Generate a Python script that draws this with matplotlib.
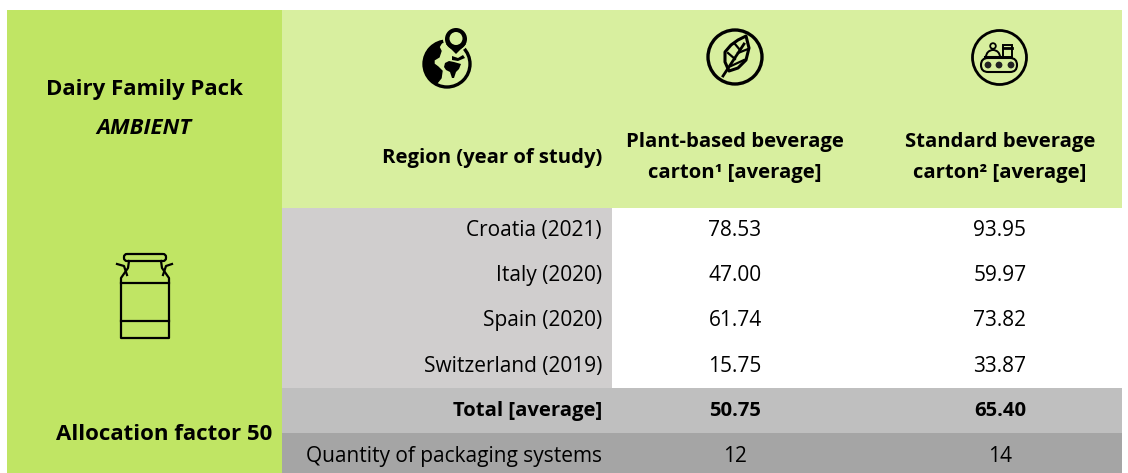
import matplotlib
matplotlib.use("Agg")
import matplotlib.pyplot as plt
from matplotlib.patches import Rectangle, Circle, FancyBboxPatch, Wedge, Polygon

regions = ["Croatia (2021)", "Italy (2020)", "Spain (2020)", "Switzerland (2019)"]
plant_based = ["78.53", "47.00", "61.74", "15.75"]
standard = ["93.95", "59.97", "73.82", "33.87"]
total_row = ["Total [average]", "50.75", "65.40"]
quantity_row = ["Quantity of packaging systems", "12", "14"]
headers = ["Region (year of study)", "Plant-based beverage\ncarton¹ [average]", "Standard beverage\ncarton² [average]"]

plt.rcParams['font.family'] = ['Open Sans', 'DejaVu Sans']
FS = 15
FS_HEAD = 14.6
FS_LEFT = 16

fig = plt.figure(figsize=(11.28, 4.73), dpi=100)
ax = fig.add_axes([0, 0, 1, 1])
ax.set_xlim(0, 1128)
ax.set_ylim(473, 0)
ax.axis("off")


def box(x0, y0, x1, y1, color):
    ax.add_patch(Rectangle((x0, y0), x1 - x0, y1 - y0, fc=color, ec="none"))


# 背景色块
green = "#d8ef9f"
box(7, 10, 282, 473, "#c0e564")
box(282, 10, 1122, 208, green)
box(282, 208, 612, 388, "#d0cece")
box(282, 388, 1122, 433, "#bfbfbf")
box(282, 433, 1122, 473, "#a5a5a5")

# 左侧文字
ax.text(144, 90, "Dairy Family Pack", ha="center", va="center", fontsize=FS_LEFT, fontweight="bold")
ax.text(144, 128, "AMBIENT", ha="center", va="center", fontsize=FS_LEFT, fontweight="bold", style="italic")
ax.text(164, 434, "Allocation factor 50", ha="center", va="center", fontsize=FS_LEFT, fontweight="bold")

# 表头
ax.text(602, 158, headers[0], ha="right", va="center", fontsize=FS_HEAD, fontweight="bold")
ax.text(735, 157.5, headers[1], ha="center", va="center", fontsize=FS_HEAD, fontweight="bold", linespacing=1.72)
ax.text(1000, 157.5, headers[2], ha="center", va="center", fontsize=FS_HEAD, fontweight="bold", linespacing=1.72)

# 数据行
row_y = [230.5, 275.5, 320.5, 366.5]
for y, r, p, s in zip(row_y, regions, plant_based, standard):
    ax.text(602, y, r, ha="right", va="center", fontsize=FS)
    ax.text(735, y, p, ha="center", va="center", fontsize=FS)
    ax.text(1000, y, s, ha="center", va="center", fontsize=FS)

ax.text(602, 410.5, total_row[0], ha="right", va="center", fontsize=FS_HEAD, fontweight="bold")
ax.text(735, 410.5, total_row[1], ha="center", va="center", fontsize=FS_HEAD, fontweight="bold")
ax.text(1000, 410.5, total_row[2], ha="center", va="center", fontsize=FS_HEAD, fontweight="bold")

ax.text(602, 456.5, quantity_row[0], ha="right", va="center", fontsize=FS)
ax.text(735, 456.5, quantity_row[1], ha="center", va="center", fontsize=FS)
ax.text(1000, 456.5, quantity_row[2], ha="center", va="center", fontsize=FS)

# 地球图标
ax.add_patch(Circle((447, 64), 23, fc=green, ec="black", lw=2.4))
ax.add_patch(Polygon([(442, 42), (439, 47), (441, 51), (439, 57), (434, 60), (434, 64), (438, 67),
                      (442, 71), (441, 78), (437, 83), (431, 80), (425, 72), (424, 62), (428, 50), (435, 44)],
                     fc="black", ec="black", lw=1))
ax.add_patch(Polygon([(445, 63), (449, 61), (454, 62), (461, 64), (459, 69), (456, 72), (454, 78),
                      (452, 78), (450, 72), (446, 70), (444, 67)], fc="black", ec="none"))
ax.add_patch(Polygon([(452, 56), (458, 58), (463, 55), (465, 58), (458, 61), (452, 60)], fc="black", ec="none"))
ax.add_patch(Circle((456, 39), 13, fc=green, ec="none"))
ax.add_patch(Circle((456, 39), 11, fc="black", ec="none"))
ax.add_patch(Polygon([(446, 44), (456, 54), (466, 44)], fc="black", ec="none"))
ax.add_patch(Circle((456, 38.5), 6.5, fc=green, ec="none"))

# 叶子图标
ax.add_patch(Circle((735, 57), 27, fc="none", ec="black", lw=2.4))
ax.add_patch(Polygon([(746, 36), (749, 48), (746, 60), (738, 68), (729, 71), (725, 62), (725, 52),
                      (731, 45), (738, 40)],
                     fc="none", ec="black", lw=2.2, joinstyle="round"))
ax.plot([723, 744], [76, 44], color="black", lw=2)
ax.plot([735, 728], [59, 53], color="black", lw=1.6)
ax.plot([731, 744], [66, 60], color="black", lw=1.6)
ax.plot([740, 735], [50, 44], color="black", lw=1.6)
ax.plot([738, 748], [53, 49], color="black", lw=1.6)

# 传送带图标
ax.add_patch(Circle((999.5, 57.5), 27, fc="none", ec="black", lw=2))
ax.add_patch(FancyBboxPatch((981, 58), 36, 14, boxstyle="round,pad=0,rounding_size=7", fc="none", ec="black", lw=1.5))
for cx in [988, 999, 1011]:
    ax.add_patch(Circle((cx, 65), 3.4, fc="#222222", ec="none"))
ax.add_patch(Circle((993, 46), 2.8, fc="none", ec="black", lw=1.3))
ax.add_patch(Wedge((993, 57), 7, 180, 360, fc="none", ec="black", lw=1.4))
ax.plot([985, 1001], [57, 57], color="black", lw=1.5)
ax.add_patch(Rectangle((1003, 45), 9, 12, fc="none", ec="black", lw=1.4))
ax.plot([1003, 1012], [48, 48], color="black", lw=2)

# 奶罐图标
ax.add_patch(FancyBboxPatch((124, 254), 42, 7, boxstyle="round,pad=0,rounding_size=3", fc="none", ec="black", lw=1.6))
ax.plot([129, 128, 121, 121, 169, 169, 162, 161],
        [261, 268, 278, 338, 338, 278, 268, 261], color="black", lw=1.6)
ax.plot([121, 169], [283, 283], color="black", lw=1.6)
ax.plot([121, 169], [321, 321], color="black", lw=1.6)
ax.plot([117, 124, 127], [264, 266, 275], color="black", lw=1.6)
ax.plot([172, 166, 163], [264, 266, 275], color="black", lw=1.6)

fig.savefig("out.png", dpi=100)
